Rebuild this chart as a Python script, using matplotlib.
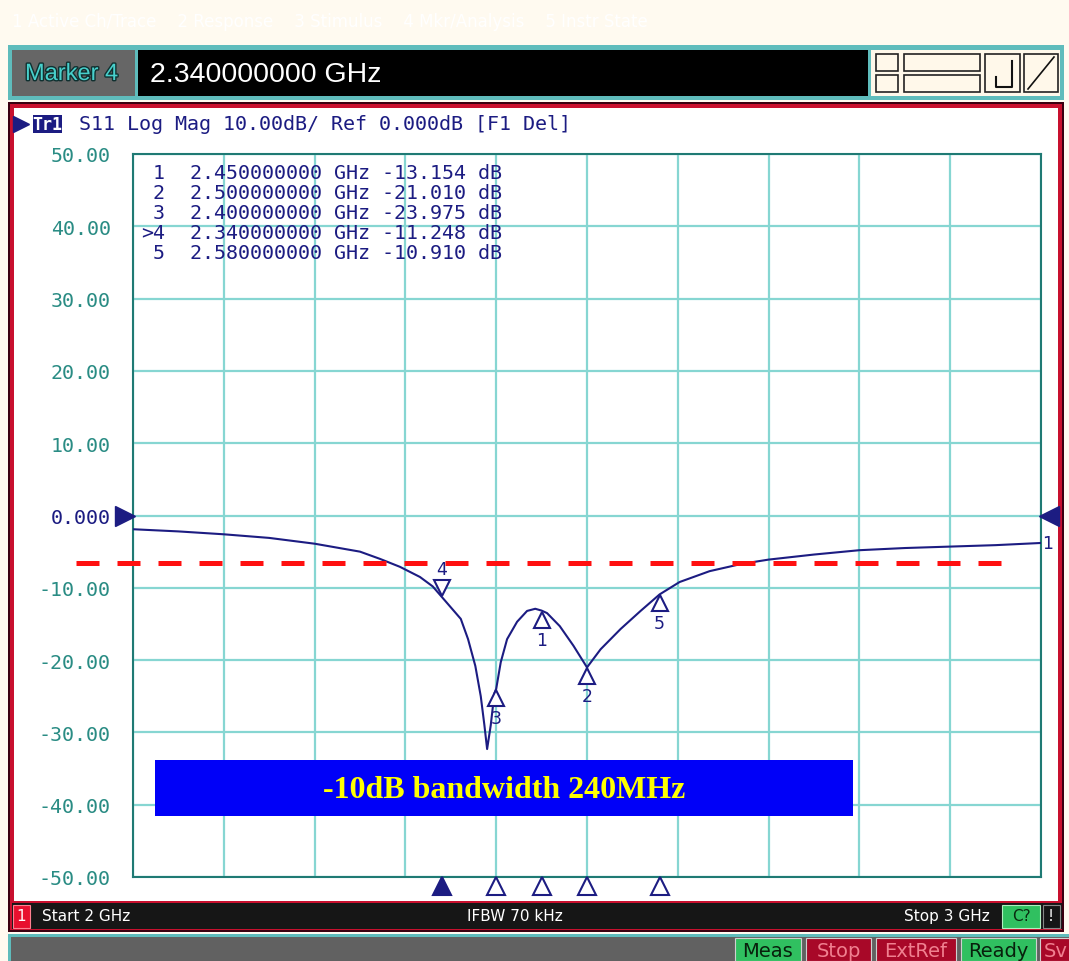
import matplotlib
matplotlib.use('Agg')
import matplotlib.pyplot as plt
import matplotlib.patheffects as pe
from matplotlib.patches import Rectangle
from matplotlib.transforms import offset_copy

# S11 trace (GHz, dB)
freq = [2.00, 2.05, 2.10, 2.15, 2.20, 2.25, 2.272, 2.294, 2.316, 2.33, 2.34, 2.361,
        2.369, 2.377, 2.383, 2.387, 2.390, 2.394, 2.398, 2.40, 2.405, 2.412, 2.423,
        2.434, 2.443, 2.45, 2.456, 2.470, 2.485, 2.50, 2.515, 2.537, 2.559, 2.58,
        2.602, 2.635, 2.67, 2.70, 2.75, 2.80, 2.85, 2.90, 2.95, 3.00]
s11 = [-1.9, -2.2, -2.6, -3.1, -3.9, -5.0, -6.0, -7.1, -8.5, -9.8, -11.248, -14.3,
       -17.1, -20.8, -25.0, -29.0, -32.3, -29.0, -24.6, -23.975, -20.3, -17.1, -14.7,
       -13.2, -12.9, -13.154, -13.5, -15.3, -18.0, -21.010, -18.5, -15.7, -13.2, -10.910,
       -9.2, -7.7, -6.7, -6.1, -5.4, -4.8, -4.5, -4.3, -4.1, -3.8]

# markers
mk_num = [1, 2, 3, 4, 5]
mk_freq = [2.45, 2.50, 2.40, 2.34, 2.58]
mk_val = [-13.154, -21.010, -23.975, -11.248, -10.910]
active_mk = 4

yticks = [50, 40, 30, 20, 10, 0, -10, -20, -30, -40, -50]
level_10db = -6.6
note = "-10dB bandwidth 240MHz"

NAVY = '#1c1c82'
TEAL = '#2a8c84'
GRID = '#86d6d2'
RED = '#c8102e'
MONO = 'DejaVu Sans Mono'
W, H = 1069, 962

fig = plt.figure(figsize=(W / 100, H / 100), dpi=100)
fig.patch.set_facecolor('#fffaf0')

# window chrome drawn in pixel coords
bg = fig.add_axes([0, 0, 1, 1])
bg.set_xlim(0, W)
bg.set_ylim(H, 0)
bg.axis('off')


def box(x0, y0, x1, y1, fc, ec='none', lw=0, z=1):
    bg.add_patch(Rectangle((x0, y0), x1 - x0, y1 - y0, fc=fc, ec=ec, lw=lw, zorder=z))


# menu strip
bg.text(12, 22, "1 Active Ch/Trace    2 Response    3 Stimulus    4 Mkr/Analysis    5 Instr State",
        color='#ffffff', fontsize=12, va='center', family='DejaVu Sans')

# marker entry bar
box(8, 46, 1064, 101, '#5fbcbc')
box(12, 51, 135, 97, '#666666')
bg.text(25, 75, "Marker 4", color='#48d0cc', fontsize=17, va='center', family='Liberation Sans',
        path_effects=[pe.withStroke(linewidth=2, foreground='#103030')])
box(138, 51, 868, 97, '#000000')
bg.text(150, 75, "2.340000000 GHz", color='white', fontsize=20.5, va='center', family='Liberation Sans')
box(871, 51, 1060, 97, '#fff8ea')
for (x0, y0, x1, y1) in [(876, 55, 898, 72), (876, 76, 898, 93), (904, 55, 980, 72),
                         (904, 76, 980, 93), (985, 55, 1020, 93), (1024, 55, 1058, 93)]:
    box(x0, y0, x1, y1, '#fff8ea', ec='#222222', lw=1.2, z=2)
bg.plot([996, 996, 1012, 1012], [78, 88, 88, 62], color='#111111', lw=1.5, zorder=3)
bg.plot([1028, 1054], [90, 58], color='#111111', lw=1.2, zorder=3)

# main display window
box(8, 103, 1064, 933, '#3a0010')
box(10, 105, 1062, 931, RED)
box(14, 109, 1058, 902, 'white')
box(12, 904, 1062, 930, '#161616')
box(13, 906, 30, 929, '#e8102e', ec='#ff8090', lw=0.8, z=2)
bg.text(21, 917, "1", color='white', fontsize=11, ha='center', va='center', family='DejaVu Sans')
bg.text(42, 917, "Start 2 GHz", color='white', fontsize=11, va='center', family='DejaVu Sans')
bg.text(515, 917, "IFBW 70 kHz", color='white', fontsize=11, ha='center', va='center', family='DejaVu Sans')
bg.text(990, 917, "Stop 3 GHz", color='white', fontsize=11, ha='right', va='center', family='DejaVu Sans')
box(1002, 906, 1040, 929, '#30c060', ec='#b0f0c0', lw=0.8, z=2)
bg.text(1021, 917, "C?", color='#0a2a10', fontsize=11, ha='center', va='center', family='DejaVu Sans')
box(1043, 906, 1060, 929, '#161616', ec='#888888', lw=0.8, z=2)
bg.text(1051, 917, "!", color='white', fontsize=11, ha='center', va='center', family='DejaVu Sans')

# status bar
box(8, 935, 1069, 962, '#5fbcbc')
box(11, 938, 1069, 962, '#616161')
for label, x0, x1, fc, tc in [("Meas", 735, 801, '#30c060', '#08200c'),
                              ("Stop", 806, 871, '#a80828', '#f08090'),
                              ("ExtRef", 876, 956, '#a80828', '#f08090'),
                              ("Ready", 961, 1036, '#30c060', '#08200c'),
                              ("Sv", 1040, 1080, '#a80828', '#f08090')]:
    box(x0, 939, x1, 962, fc, ec='#d0d0d0', lw=0.8, z=2)
    bg.text((x0 + x1) / 2 if label != "Sv" else x0 + 4, 952, label, color=tc, fontsize=14,
            ha='center' if label != "Sv" else 'left', va='center', family='DejaVu Sans', zorder=3)

# trace header
bg.plot([21], [125], marker='>', ms=12, color=NAVY, zorder=3)
box(33, 116, 62, 134, NAVY, z=2)
bg.text(47.5, 125, "Tr1", color='white', fontsize=12, ha='center', va='center',
        family=MONO, weight='bold', zorder=3)
bg.text(79, 125, "S11 Log Mag 10.00dB/ Ref 0.000dB [F1 Del]", color=NAVY, fontsize=14.4,
        va='center', family=MONO, zorder=3)

# plot area
ax = fig.add_axes([133 / W, (H - 878) / H, 908 / W, 723 / H])
ax.set_facecolor('white')
ax.set_xlim(2.0, 3.0)
ax.set_ylim(-50, 50)
ax.set_xticks([2.0 + 0.1 * i for i in range(11)])
ax.set_yticks(yticks)
ax.set_xticklabels([])
ax.set_yticklabels(['0.000' if v == 0 else '%.2f' % v for v in yticks])
ax.tick_params(length=0, pad=16, labelsize=14.4, labelcolor=TEAL)
for lbl in ax.get_yticklabels():
    lbl.set_family(MONO)
    if lbl.get_text() == '0.000':
        lbl.set_color(NAVY)
ax.grid(True, color=GRID, lw=1.6)
ax.set_axisbelow(True)
for sp in ax.spines.values():
    sp.set_color('#1f7a74')
    sp.set_linewidth(1.5)

ax.plot(freq, s11, color=NAVY, lw=1.5, zorder=4)

# marker readout table
for i, (n, f, v) in enumerate(zip(mk_num, mk_freq, mk_val)):
    y = 47.4 - i * 2.77
    tag = ('>%d' % n) if n == active_mk else str(n)
    ax.text(2.035, y, tag, color=NAVY, fontsize=14.4, ha='right', va='center', family=MONO)
    ax.text(2.063, y, '%.9f GHz %.3f dB' % (f, v), color=NAVY, fontsize=14.4, va='center',
            family=MONO)

# marker symbols on the trace
below = offset_copy(ax.transData, fig=fig, x=0, y=-9, units='dots')
above = offset_copy(ax.transData, fig=fig, x=0, y=9, units='dots')
for n, f, v in zip(mk_num, mk_freq, mk_val):
    if n == active_mk:
        ax.plot([f], [v], marker='v', ms=11, mfc='white', mec=NAVY, mew=1.5, transform=above, zorder=5)
        ax.annotate(str(n), (f, v), xytext=(0, 19), textcoords='offset pixels', ha='center',
                    va='bottom', color=NAVY, fontsize=12.5, family='DejaVu Sans', zorder=5)
    else:
        ax.plot([f], [v], marker='^', ms=11, mfc='white', mec=NAVY, mew=1.5, transform=below, zorder=5)
        ax.annotate(str(n), (f, v), xytext=(0, -20), textcoords='offset pixels', ha='center',
                    va='top', color=NAVY, fontsize=12.5, family='DejaVu Sans', zorder=5)

# marker position triangles under the grid
under = offset_copy(ax.transData, fig=fig, x=0, y=-9, units='dots')
for n, f in zip(mk_num, mk_freq):
    filled = n == active_mk
    ax.plot([f], [-50], marker='^', ms=13, mfc=NAVY if filled else 'white', mec=NAVY, mew=1.5,
            transform=under, clip_on=False, zorder=5)

# reference level arrows and trace id
ax.plot([2.0], [0], marker='>', ms=15, color=NAVY, clip_on=False, zorder=5,
        transform=offset_copy(ax.transData, fig=fig, x=-8, y=0, units='dots'))
ax.plot([3.0], [0], marker='<', ms=15, color=NAVY, clip_on=False, zorder=5,
        transform=offset_copy(ax.transData, fig=fig, x=8, y=0, units='dots'))
ax.annotate("1", (3.0, s11[-1]), xytext=(1, 0), textcoords='offset pixels', ha='left', va='center',
            color=NAVY, fontsize=12.5, family='DejaVu Sans', annotation_clip=False)

# -10 dB level and bandwidth note
ax.plot([1.937, 2.972], [level_10db, level_10db], color='#ff1010', lw=3.6, dashes=(4.6, 3.6),
        clip_on=False, zorder=6)
ax.add_patch(Rectangle((2.024, -41.5), 0.769, 7.75, fc='#0000f8', ec='none', zorder=6))
ax.text(2.4085, -37.9, note, color='#ffff00', fontsize=23, weight='bold', family='Liberation Serif',
        ha='center', va='center', zorder=7)

fig.savefig('out.png', dpi=100)
